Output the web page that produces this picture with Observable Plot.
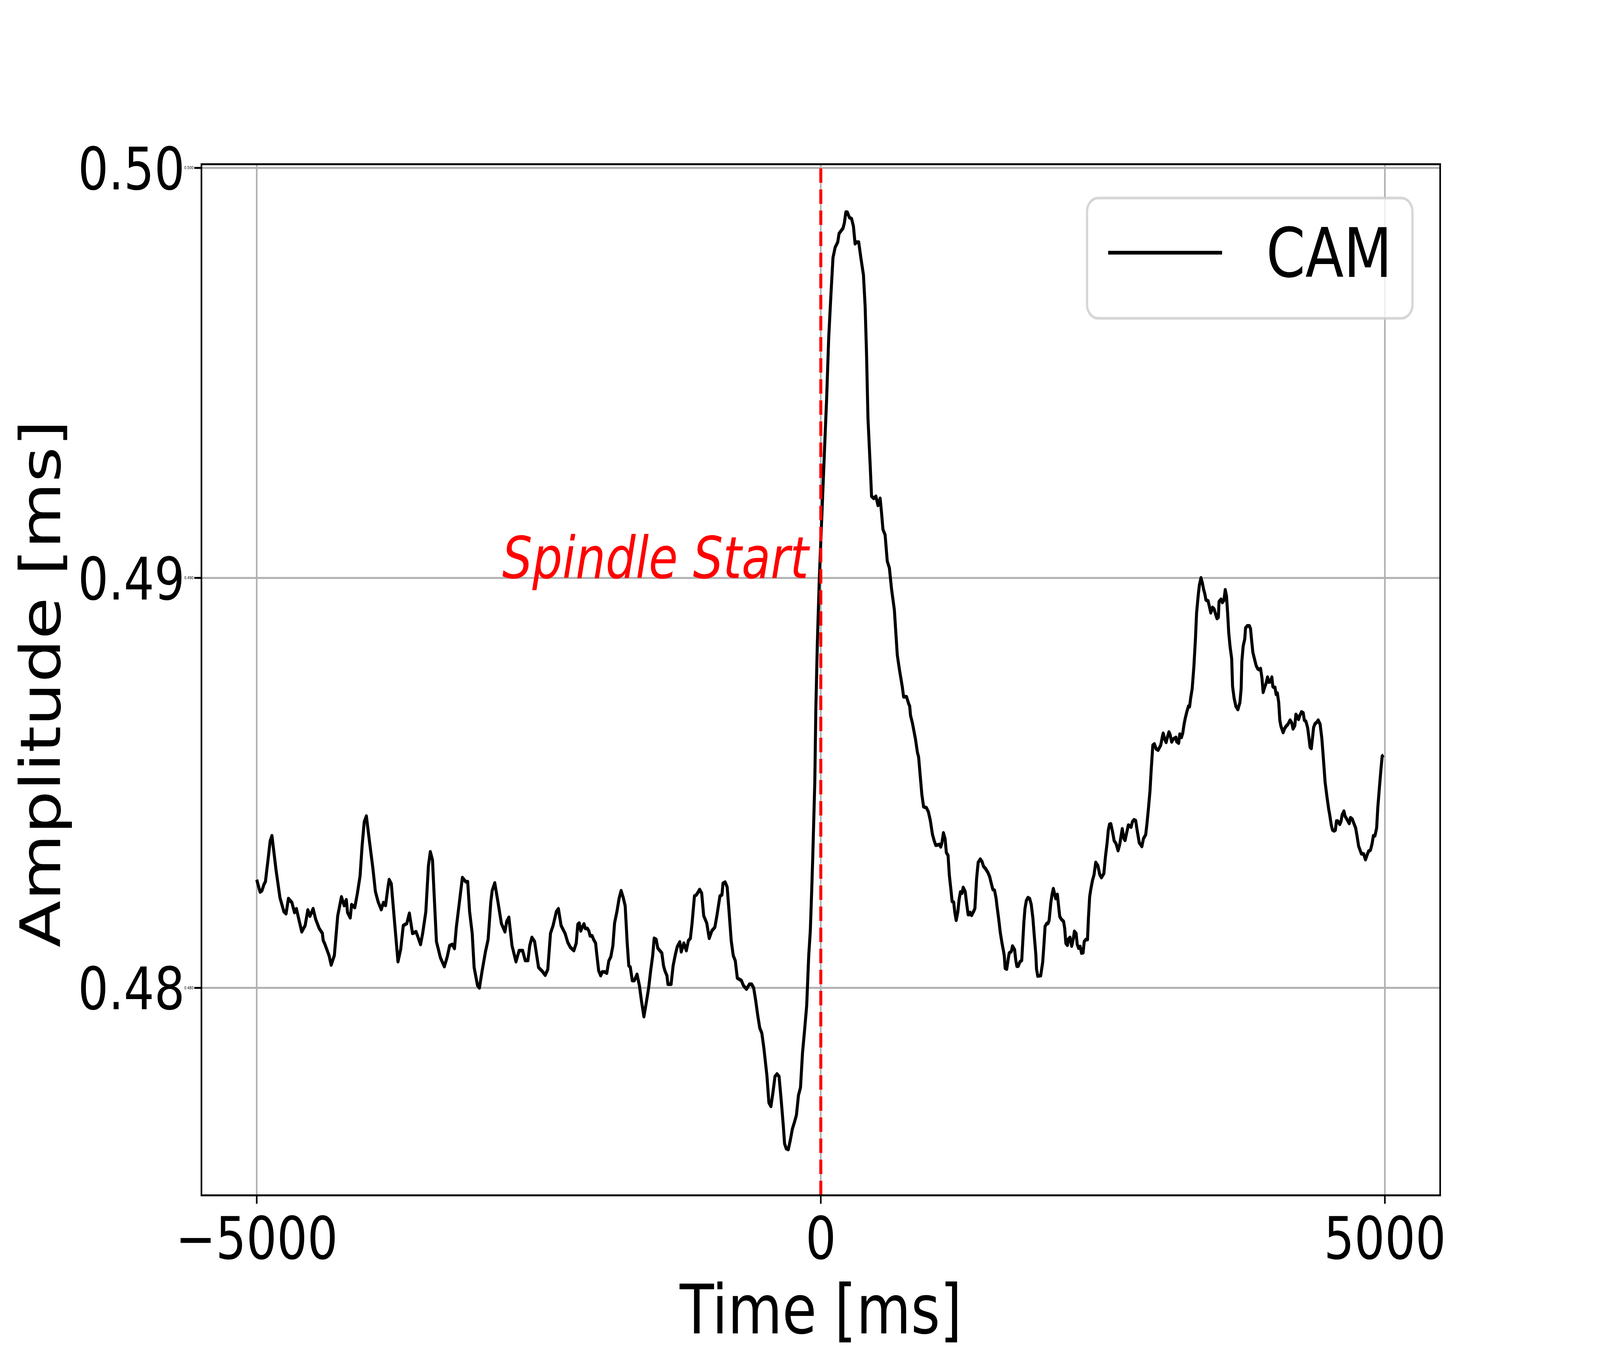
<!DOCTYPE html>
<html><head><meta charset="utf-8">
<script src="https://cdn.jsdelivr.net/npm/d3@7"></script>
<script src="https://cdn.jsdelivr.net/npm/@observablehq/plot@0.6"></script>
<style>html,body{margin:0;padding:0;background:#fff;overflow:hidden;width:100vw;height:100vh;}#chart{width:100vw;height:100vh;}</style>
</head><body><div id="chart"></div>
<script>
const timeMs = [
-5000,-4970,-4954,-4935,-4923,-4900,-4881,-4865,-4829,-4794,-4759,-4740,-4719,-4688,-4665,-4648,-4630,-4601,-4571,-4547,-4528,-4500,-4477,-4446,-4418,-4411,-4395,-4359,-4340,-4312,-4282,-4249,-4225,-4206,-4195,-4171,-4159,-4131,-4108,-4084,-4066,-4047,-4028,-4000,-3971,-3948,-3924,-3896,-3877,-3858,-3835,-3826,-3807,-3783,-3748,-3724,-3701,-3670,-3647,-3619,-3588,-3572,-3548,-3529,-3501,-3478,-3461,-3442,-3426,-3407,-3372,-3337,-3313,-3290,-3266,-3247,-3231,-3207,-3177,-3148,-3130,-3113,-3090,-3073,-3043,-3026,-3003,-2972,-2949,-2925,-2913,-2890,-2862,-2831,-2800,-2784,-2765,-2737,-2702,-2674,-2643,-2620,-2596,-2580,-2561,-2537,-2502,-2467,-2443,-2420,-2396,-2373,-2344,-2326,-2302,-2267,-2243,-2220,-2189,
-2168,-2154,-2141,-2128,-2114,-2099,-2087,-2069,-2056,-2045,-2027,-2014,-1996,-1987,-1969,-1951,-1937,-1915,-1897,-1879,-1861,-1843,-1828,-1806,-1788,-1770,-1752,-1734,-1716,-1702,-1689,-1671,-1653,-1629,-1608,-1590,-1568,-1544,-1526,-1508,-1490,-1477,-1459,-1445,-1427,-1409,-1394,-1382,-1364,-1355,-1327,-1309,-1291,-1273,-1250,-1237,-1214,-1192,-1174,-1156,-1141,-1120,-1102,-1074,-1056,-1038,-1011,-989,-966,-939,-921,-894,-876,-867,-848,-830,-812,-794,-776,-758,-740,-722,-704,-686,-659,-632,-613,-595,-577,-559,-541,-523,-505,-478,-460,-442,-424,-406,-388,-370,-351,-333,-321,-306,-288,-270,-252,-234,-216,-198,-180,-162,-144,-125,-116,-107,-93,-80,-71,-53,
-44,-31,-13,13,38,51,70,89,108,127,150,162,197,209,222,235,254,273,289,304,317,336,355,378,393,405,418,437,450,469,488,507,526,538,551,570,589,608,627,652,678,696,722,734,760,779,
788,795,812,839,856,867,882,896,911,937,954,971,990,1005,1019,1041,1053,1063,1073,1087,1102,1113,1128,1139,1154,1164,1178,1188,1200,1215,1226,1238,1252,1262,1280,1294,1306,1316,1323,1337,1359,1366,1381,1395,1414,1429,1443,1460,1482,1497,1511,1525,1540,1554,1562,1576,1591,1605,1620,1627,1634,1648,1660,1670,1689,1699,1718,1728,1738,1750,1764,1781,1790,1800,1810,1822,1836,1851,1865,1880,1894,1906,1912,1923,1949,1967,1978,1988,2003,2014,2024,2039,2050,2061,2072,2082,2097,2108,2118,2133,2152,2162,2172,2186,2195,2209,2224,2239,2248,2263,2273,2285,2299,2311,2325,2335,2350,2364,2372,2383,2393,2408,2422,2437,2456,2473,2487,2509,2523,2538,2548,2559,2571,2588,2600,2617,2635,2649,2672,2687,2697,2711,2726,2740,2750,2762,2776,2791,2805,2823,2846,2860,2880,2892,2904,2918,2928,2943,2957,2972,2990,
3013,3028,3035,3049,3061,3075,3086,3096,3110,3125,3148,3154,3172,3182,3197,3208,3220,3230,3245,3259,3269,3278,3292,3307,3321,3331,3346,3356,3370,3382,3394,3404,3414,3433,3447,3457,3472,3486,3501,3512,3524,3530,3548,3559,3573,3585,3596,3606,3616,3628,3642,3650,3664,3679,3697,3715,3726,3732,3744,3758,3765,3780,3799,3809,3819,3830,3848,3859,3874,3888,3898,3910,3921,3934,3946,3960,3972,3987,3998,4007,4016,4026,4036,4047,4059,4069,4079,4098,4112,4127,4141,4160,4174,4186,4202,4211,4224,4235,4247,4261,4276,4286,4300,4315,4325,4337,4348,4358,4368,4380,4397,4409,4426,4441,4452,4470,4488,4503,4510,4525,4536,4551,4561,4571,4582,4600,4612,4621,4637,4647,4666,4684,4695,4710,4724,4741,4753,4767,4792,4811,4828,4846,4857,4872,4886,4898,4912,4927,4937,4951,4966,4976,4988
];
const amplitude = [
0.48264,0.48234,0.48237,0.48253,0.48259,0.48312,0.48358,0.48371,0.48288,0.48220,0.48186,0.48181,0.48218,0.48208,0.48184,0.48193,0.48171,0.48137,0.48152,0.48190,0.48175,0.48193,0.48167,0.48145,0.48133,0.48116,0.48106,0.48079,0.48056,0.48079,0.48176,0.48222,0.48201,0.48215,0.48184,0.48171,0.48203,0.48196,0.48230,0.48273,0.48346,0.48405,0.48419,0.48356,0.48293,0.48235,0.48210,0.48191,0.48208,0.48201,0.48249,0.48264,0.48254,0.48176,0.48064,0.48094,0.48152,0.48157,0.48182,0.48133,0.48137,0.48125,0.48106,0.48133,0.48186,0.48298,0.48332,0.48312,0.48220,0.48113,0.48074,0.48052,0.48074,0.48103,0.48106,0.48096,0.48147,0.48201,0.48269,0.48259,0.48259,0.48186,0.48133,0.48050,0.48006,0.48000,0.48040,0.48089,0.48118,0.48210,0.48237,0.48256,0.48210,0.48157,0.48137,0.48162,0.48172,0.48103,0.48064,0.48091,0.48091,0.48067,0.48067,0.48103,0.48123,0.48113,0.48050,0.48040,0.48031,0.48045,0.48133,0.48152,0.48186,0.48193,0.48152,0.48133,0.48111,0.48099,0.48091,
0.48109,0.48155,0.48158,0.48139,0.48148,0.48156,0.48145,0.48145,0.48139,0.48127,0.48127,0.48118,0.48109,0.48085,0.48042,0.48030,0.48039,0.48039,0.48036,0.48066,0.48076,0.48103,0.48158,0.48188,0.48218,0.48237,0.48221,0.48200,0.48109,0.48054,0.48051,0.48018,0.48018,0.48033,0.48006,0.47969,0.47930,0.47969,0.48000,0.48042,0.48079,0.48121,0.48118,0.48097,0.48091,0.48085,0.48054,0.48042,0.48030,0.48009,0.48009,0.48054,0.48079,0.48100,0.48112,0.48088,0.48109,0.48091,0.48115,0.48121,0.48158,0.48224,0.48227,0.48240,0.48231,0.48176,0.48158,0.48121,0.48139,0.48148,0.48176,0.48224,0.48227,0.48255,0.48258,0.48246,0.48182,0.48115,0.48079,0.48066,0.48024,0.48021,0.48018,0.48006,0.47997,0.48009,0.48009,0.48000,0.47969,0.47933,0.47902,0.47890,0.47854,0.47787,0.47720,0.47711,0.47745,0.47784,0.47790,0.47784,0.47726,0.47666,0.47620,0.47608,0.47606,0.47629,0.47656,0.47672,0.47690,0.47738,0.47757,0.47842,0.47896,0.47957,0.48018,0.48079,0.48139,0.48243,0.48322,0.48504,
0.48680,0.48837,0.49000,0.49177,0.49347,0.49432,0.49585,0.49687,0.49781,0.49806,0.49819,0.49840,0.49853,0.49866,0.49892,0.49892,0.49879,0.49876,0.49858,0.49815,0.49819,0.49819,0.49781,0.49739,0.49662,0.49551,0.49390,0.49279,0.49199,0.49194,0.49199,0.49177,0.49194,0.49160,0.49118,0.49105,0.49041,0.49024,0.48973,0.48922,0.48812,0.48778,0.48735,0.48710,0.48710,0.48693,
0.48687,0.48665,0.48646,0.48607,0.48575,0.48563,0.48515,0.48471,0.48442,0.48439,0.48429,0.48408,0.48374,0.48359,0.48348,0.48349,0.48350,0.48344,0.48353,0.48378,0.48363,0.48330,0.48323,0.48276,0.48238,0.48211,0.48209,0.48184,0.48165,0.48186,0.48216,0.48234,0.48231,0.48245,0.48235,0.48203,0.48179,0.48179,0.48184,0.48177,0.48189,0.48194,0.48267,0.48306,0.48314,0.48308,0.48296,0.48291,0.48281,0.48271,0.48255,0.48240,0.48238,0.48218,0.48199,0.48170,0.48135,0.48111,0.48089,0.48077,0.48048,0.48046,0.48068,0.48085,0.48089,0.48102,0.48093,0.48068,0.48053,0.48053,0.48063,0.48067,0.48111,0.48160,0.48194,0.48213,0.48220,0.48218,0.48204,0.48170,0.48121,0.48082,0.48046,0.48029,0.48030,0.48063,0.48106,0.48150,0.48157,0.48157,0.48165,0.48208,0.48228,0.48242,0.48230,0.48218,0.48228,0.48199,0.48174,0.48167,0.48162,0.48145,0.48109,0.48104,0.48119,0.48123,0.48102,0.48121,0.48138,0.48133,0.48106,0.48097,0.48101,0.48085,0.48086,0.48113,0.48118,0.48118,0.48169,0.48222,0.48240,0.48262,0.48276,0.48306,0.48298,0.48276,0.48269,0.48279,0.48320,0.48354,0.48384,0.48399,0.48400,0.48378,0.48359,0.48352,0.48335,0.48349,0.48388,0.48364,0.48360,0.48378,0.48397,0.48395,0.48392,0.48405,0.48410,0.48408,0.48383,0.48354,0.48345,0.48364,0.48374,0.48403,0.48437,0.48481,0.48529,0.48592,0.48595,0.48583,0.48580,
0.48592,0.48613,0.48621,0.48606,0.48599,0.48614,0.48624,0.48618,0.48600,0.48607,0.48611,0.48601,0.48597,0.48619,0.48611,0.48621,0.48643,0.48657,0.48674,0.48687,0.48686,0.48706,0.48730,0.48784,0.48852,0.48915,0.48959,0.48983,0.49000,0.48988,0.48971,0.48961,0.48946,0.48944,0.48927,0.48915,0.48928,0.48924,0.48910,0.48901,0.48904,0.48942,0.48948,0.48940,0.48945,0.48971,0.48956,0.48915,0.48866,0.48832,0.48803,0.48735,0.48706,0.48687,0.48679,0.48696,0.48730,0.48796,0.48834,0.48851,0.48878,0.48883,0.48883,0.48876,0.48847,0.48818,0.48798,0.48786,0.48778,0.48776,0.48779,0.48757,0.48721,0.48733,0.48742,0.48758,0.48746,0.48747,0.48758,0.48735,0.48733,0.48733,0.48716,0.48719,0.48696,0.48652,0.48638,0.48623,0.48633,0.48639,0.48643,0.48653,0.48647,0.48632,0.48640,0.48667,0.48662,0.48655,0.48665,0.48673,0.48671,0.48653,0.48650,0.48635,0.48614,0.48587,0.48584,0.48609,0.48635,0.48644,0.48648,0.48653,0.48643,0.48609,0.48570,0.48502,0.48463,0.48434,0.48424,0.48397,0.48385,0.48383,0.48385,0.48407,0.48407,0.48399,0.48407,0.48422,0.48431,0.48419,0.48410,0.48401,0.48415,0.48412,0.48402,0.48390,0.48371,0.48346,0.48327,0.48327,0.48313,0.48327,0.48334,0.48336,0.48351,0.48371,0.48371,0.48390,0.48439,0.48487,0.48536,0.48565,0.48568
];
const xTicks = [-5000, 0, 5000];
const yTicks = [0.48, 0.49, 0.50];
const xDomain = [-5490, 5490];
const yDomain = [0.47494, 0.50009];
const eventTime = [0];
const eventLabel = ["Spindle Start"];
const seriesName = "CAM";
const xLabel = ["Time [ms]"];
const yLabel = ["Amplitude [ms]"];

const data = timeMs.map((t, i) => ({t, v: amplitude[i]}));
const W = 5000, H = 3500, mL = 629, mR = 500, mT = 420, mB = 440;
const font = "DejaVu Sans";
const fmtX = d => d < 0 ? "\u2212" + Math.abs(d) : String(d);
const gridStyle = {stroke: "#b0b0b0", strokeOpacity: 1, strokeWidth: 5};

const plot = Plot.plot({
  width: W, height: H,
  marginLeft: mL, marginRight: mR, marginTop: mT, marginBottom: mB,
  style: {fontFamily: font, background: "#fff", overflow: "visible", color: "#000"},
  x: {domain: xDomain},
  y: {domain: yDomain},
  marks: [
    Plot.gridX(xTicks, gridStyle),
    Plot.gridY(yTicks, gridStyle),
    Plot.line(data, {x: "t", y: "v", stroke: "#000", strokeWidth: 9.4, strokeLinejoin: "round", strokeLinecap: "butt"}),
    Plot.ruleX(eventTime, {y1: yDomain[0], y2: yDomain[1], stroke: "red", strokeWidth: 9.4, strokeDasharray: "37,17"}),
    Plot.text(eventLabel, {x: eventTime[0], y: yTicks[1], text: d => d, dx: -38, textAnchor: "end", lineAnchor: "bottom", fill: "red", fontSize: 148, fontStyle: "italic", fontFamily: font}),
    Plot.axisX({ticks: xTicks, tickFormat: fmtX, tickSize: 22, tickPadding: 34, fontSize: 150, strokeWidth: 5, stroke: "#000", label: null}),
    Plot.axisY({ticks: yTicks, tickFormat: null, tickSize: 22, strokeWidth: 5, stroke: "#000", label: null}),
    Plot.axisY({ticks: yTicks, tickFormat: d3.format(".2f"), tickSize: 0, tickPadding: 52, dy: 7, fontSize: 150, label: null}),
    Plot.text(xLabel, {frameAnchor: "bottom", textAnchor: "middle", lineAnchor: "bottom", dy: 353, text: d => d, fontSize: 175, fontFamily: font}),
    Plot.text(yLabel, {frameAnchor: "left", textAnchor: "middle", lineAnchor: "bottom", rotate: -90, dx: -442, dy: 10, text: d => d, fontSize: 175, fontFamily: font}),
    Plot.frame({stroke: "#000", strokeWidth: 5})
  ]
});
// Fill the whole window with the 5000x3500 drawing
plot.setAttribute("viewBox", `0 0 ${W} ${H}`);
plot.setAttribute("preserveAspectRatio", "none");
plot.style.width = "100vw";
plot.style.height = "100vh";
plot.style.maxWidth = "none";
plot.style.display = "block";
document.getElementById("chart").appendChild(plot);

// Legend (upper right, matplotlib style)
const svg = d3.select(plot);
const boxW = 1017, boxH = 308;
const boxX = W - mR - 86 - boxW, boxY = mT + 87;
const lg = svg.append("g");
lg.append("rect").attr("x", boxX).attr("y", boxY).attr("width", boxW).attr("height", boxH)
  .attr("rx", 35).attr("ry", 35)
  .attr("fill", "#fff").attr("fill-opacity", 0.8)
  .attr("stroke", "#cccccc").attr("stroke-opacity", 0.8).attr("stroke-width", 7);
lg.append("line").attr("x1", boxX + 66).attr("x2", boxX + 422)
  .attr("y1", boxY + 140).attr("y2", boxY + 140)
  .attr("stroke", "#000").attr("stroke-width", 9.4);
lg.append("text").attr("x", boxX + 560).attr("y", boxY + 202)
  .attr("text-anchor", "start")
  .attr("font-family", font).attr("font-size", 175).attr("fill", "#000")
  .text(seriesName);
</script>
</body></html>
